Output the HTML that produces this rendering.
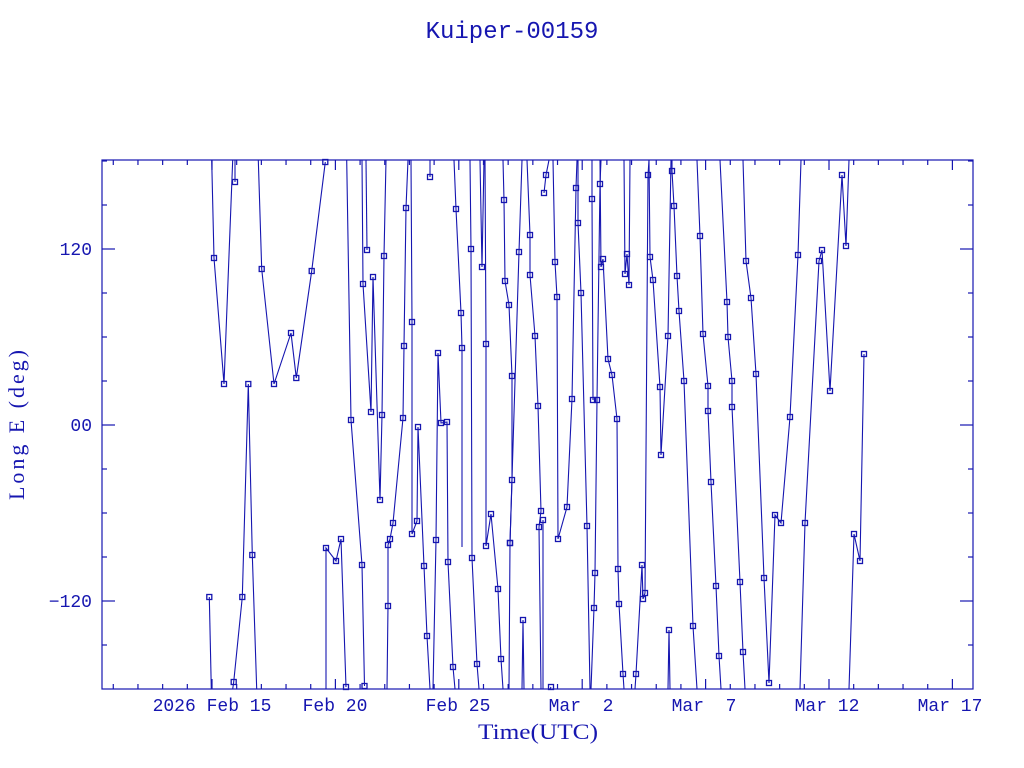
<!DOCTYPE html>
<html><head><meta charset="utf-8"><style>
html,body{margin:0;padding:0;background:#fff;}
svg{display:block;}
</style></head><body>
<svg id="s" width="1024" height="768" viewBox="0 0 1024 768" xmlns="http://www.w3.org/2000/svg">
<rect width="1024" height="768" fill="#fff"/>
<g fill="#1616b0" font-family="Liberation Mono, monospace">
<text x="512" y="38" font-size="24" text-anchor="middle">Kuiper-00159</text>
<g font-size="18" text-anchor="middle">
<text x="212" y="711">2026 Feb 15</text>
<text x="335" y="711">Feb 20</text>
<text x="458" y="711">Feb 25</text>
<text x="581" y="711" xml:space="preserve">Mar  2</text>
<text x="704" y="711" xml:space="preserve">Mar  7</text>
<text x="827" y="711">Mar 12</text>
<text x="950" y="711">Mar 17</text>
</g>
<g font-size="18" text-anchor="end">
<text x="92" y="255">120</text>
<text x="92" y="431">00</text>
<text x="92" y="607">−120</text>
</g>
</g>
<g fill="#1616b0" font-family="Liberation Serif, serif">
<text x="478" y="739" font-size="22" textLength="120" lengthAdjust="spacingAndGlyphs">Time(UTC)</text>
<text transform="translate(24,500) rotate(-90)" font-size="22" textLength="150" lengthAdjust="spacing">Long E (deg)</text>
</g>
<g id="ax" stroke="#1616b0" stroke-width="1.2" fill="none">
<rect x="102" y="160" width="871" height="529"/>
</g>
<g id="d" stroke="#1616b0" stroke-width="1.1" fill="none"></g>
<g id="b" stroke="#1616b0" stroke-width="1.3" fill="none"></g>
</svg>
<script>
var NS="http://www.w3.org/2000/svg";
var ax=document.getElementById("ax"),d=document.getElementById("d"),b=document.getElementById("b");
function ln(g,x1,y1,x2,y2){var l=document.createElementNS(NS,"line");l.setAttribute("x1",x1);l.setAttribute("y1",y1);l.setAttribute("x2",x2);l.setAttribute("y2",y2);g.appendChild(l);}
for(var i=-4;i<=31;i++){var x=212+i*24.68;if(x<=102||x>=973)continue;var maj=(i%5==0);var L=maj?10:5;ln(ax,x,689,x,689-L);ln(ax,x,160,x,160+L);}
for(var j=-6;j<=6;j++){var y=425-j*44;if(y<=160||y>=689)continue;var maj=(j%4==0);var L=maj?13:5;ln(ax,102,y,102+L,y);ln(ax,973,y,973-L,y);}
var S=[
[[209.3,597],[211.3,689]],
[[211.7,160],[214,258],[224,384],[232.7,160]],
[[235,160],[235,182]],
[[232.7,689],[233.7,682],[242.3,597],[248.3,384],[252.3,555],[256.7,689]],
[[258.3,160],[261.7,269],[274,384],[291,333],[296.3,378],[311.7,271],[325.3,162]],
[[346.7,160],[351,420],[362,565],[364.5,686]],
[[326,689],[326,548],[336,561],[341,539],[346,687]],
[[362,160],[363,284],[371,412],[373,277],[380,500],[382,415],[384,256],[386,160]],
[[366,160],[367,250]],
[[387,689],[388,606],[388,545],[390,539],[393,523],[403,418],[404,346],[406,208],[408,160]],
[[411,160],[412,322],[412,534],[417,521],[418,427],[424,566],[427,636],[430,689]],
[[430,160],[430,177]],
[[433,689],[436,540],[438,353],[441,423],[447,422],[448,562],[453,667],[455,689]],
[[454,160],[456,209],[461,313],[462,348],[462,547]],
[[470,160],[471,249],[472,558],[477,664],[479,689]],
[[480,160],[482,267],[484,160]],
[[485,160],[486,344],[486,546],[491,514],[498,589],[501,659],[503,689]],
[[503,160],[504,200],[505,281],[509,305],[512,376],[512,480],[510,543],[509,689]],
[[510,543],[519,252],[522,160]],
[[522,689],[523,620],[524,689]],
[[527,160],[530,235],[530,275],[535,336],[538,406],[541,511],[539,527],[541,689]],
[[543,689],[543,520]],
[[544,193],[546,175],[549,160]],
[[550,689],[551,687]],
[[553,160],[555,262],[557,297],[558,539],[567,507],[572,399],[576,188],[577,160]],
[[578,160],[578,223],[581,293],[587,526],[590,689]],
[[591,689],[594,608],[595,573],[597,400],[600,184],[601,160]],
[[592,160],[592,199],[593,400]],
[[600,160],[601,267],[603,259],[608,359],[612,375],[617,419],[618,569],[619,604],[623,674],[624,689]],
[[624,160],[625,274],[627,254],[629,285],[630,160]],
[[635,689],[636,674],[642,565],[643,599],[645,593],[648,175],[649,160]],
[[649,160],[650,257],[653,280],[660,387],[661,455],[668,336],[671,160]],
[[668,689],[669,630],[670,689]],
[[672,160],[672,171],[674,206],[677,276],[679,311],[684,381],[693,626],[697,689]],
[[697,160],[700,236],[703,334],[708,386],[708,411],[711,482],[716,586],[719,656],[721,689]],
[[720,160],[727,302],[728,337],[732,381],[732,407],[740,582],[743,652],[745,689]],
[[743,160],[746,261],[751,298],[756,374],[764,578],[769,683],[775,515],[781,523],[790,417],[798,255],[801,160]],
[[800,689],[805,523],[819,261],[822,250],[830,391],[842,175],[846,246],[849,160]],
[[849,689],[854,534],[860,561],[864,354]]
];
S.forEach(function(p){
 var pl=document.createElementNS(NS,"polyline");
 pl.setAttribute("points",p.map(function(q){return q.join(",");}).join(" "));
 d.appendChild(pl);
 p.forEach(function(q){
  if(q[1]<=160.5||q[1]>=688.5)return;
  if(p===S[13]&&q[1]==547)return;
  var r=document.createElementNS(NS,"rect");
  r.setAttribute("x",q[0]-2.5);r.setAttribute("y",q[1]-2.5);r.setAttribute("width",5);r.setAttribute("height",5);
  b.appendChild(r);
 });
});
</script>
</body></html>
